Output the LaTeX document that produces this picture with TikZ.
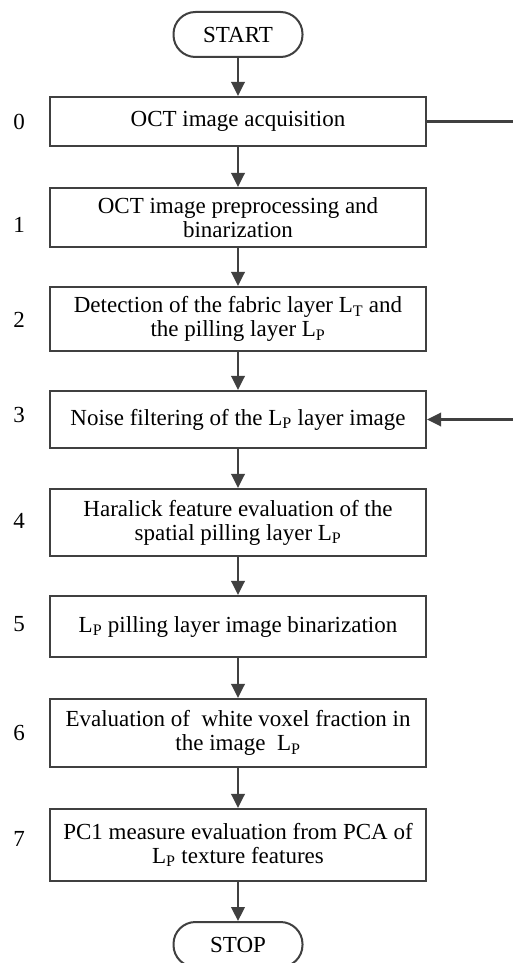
\documentclass[tikz,border=0pt]{standalone}
\usepackage{fontspec}
\setmainfont{Liberation Serif}
\usetikzlibrary{arrows.meta}
\definecolor{linec}{HTML}{404040}
\tikzset{
  procbox/.style={draw=linec, line width=2.2pt, minimum width=376pt, align=center, inner sep=2pt,
    font=\fontsize{23}{24}\selectfont, text=black},
  term/.style={draw=linec, line width=2pt, minimum width=129pt, minimum height=45pt,
    rounded corners=22pt, font=\fontsize{23}{24}\selectfont, text=black},
  steplabel/.style={font=\fontsize{23}{24}\selectfont, inner sep=0pt, text=black},
  arr/.style={draw=linec, line width=2.2pt, -{Triangle[width=13.5pt,length=14pt]}},
  plainline/.style={draw=linec, line width=2.2pt}
}
\begin{document}
\begin{tikzpicture}[x=1pt,y=-1pt]
\useasboundingbox (0,0) rectangle (512,963);
\fill[white] (0,0) rectangle (512,963);
\node[term] (start) at (238,34.5) {START};
\node[procbox, minimum height=49pt] (b0) at (238,121.5) {OCT image acquisition};
\node[procbox, minimum height=59pt] (b1) at (238,217.5) {OCT image preprocessing and\\binarization};
\node[procbox, minimum height=64pt] (b2) at (238,319) {Detection of the fabric layer L\textsubscript{T} and\\the pilling layer L\textsubscript{P}};
\node[procbox, minimum height=57pt] (b3) at (238,419.5) {Noise filtering of the L\textsubscript{P} layer image};
\node[procbox, minimum height=67pt] (b4) at (238,522.5) {Haralick feature evaluation of the\\spatial pilling layer L\textsubscript{P}};
\node[procbox, minimum height=61pt] (b5) at (238,626.5) {L\textsubscript{P} pilling layer image binarization};
\node[procbox, minimum height=68pt] (b6) at (238,733) {Evaluation of~ white voxel fraction in\\the image~ L\textsubscript{P}};
\node[procbox, minimum height=72pt] (b7) at (238,845) {PC1 measure evaluation from PCA of\\L\textsubscript{P} texture features};
\node[term] (stop) at (238,944.5) {STOP};
\node[steplabel] (n0) at (19,122) {0};
\node[steplabel] (n1) at (19,225) {1};
\node[steplabel] (n2) at (19,320) {2};
\node[steplabel] (n3) at (19,415) {3};
\node[steplabel] (n4) at (19,521) {4};
\node[steplabel] (n5) at (19,624) {5};
\node[steplabel] (n6) at (19,733) {6};
\node[steplabel] (n7) at (19,839) {7};
\coordinate (r0) at (514,121.5);
\coordinate (r3) at (514,419.5);
\draw[arr] (start) -- (b0);
\draw[arr] (b0) -- (b1);
\draw[arr] (b1) -- (b2);
\draw[arr] (b2) -- (b3);
\draw[arr] (b3) -- (b4);
\draw[arr] (b4) -- (b5);
\draw[arr] (b5) -- (b6);
\draw[arr] (b6) -- (b7);
\draw[arr] (b7) -- (stop);
\draw[plainline] (b0.east) -- (r0);
\draw[arr] (r3) -- (b3.east);
\end{tikzpicture}
\end{document}
